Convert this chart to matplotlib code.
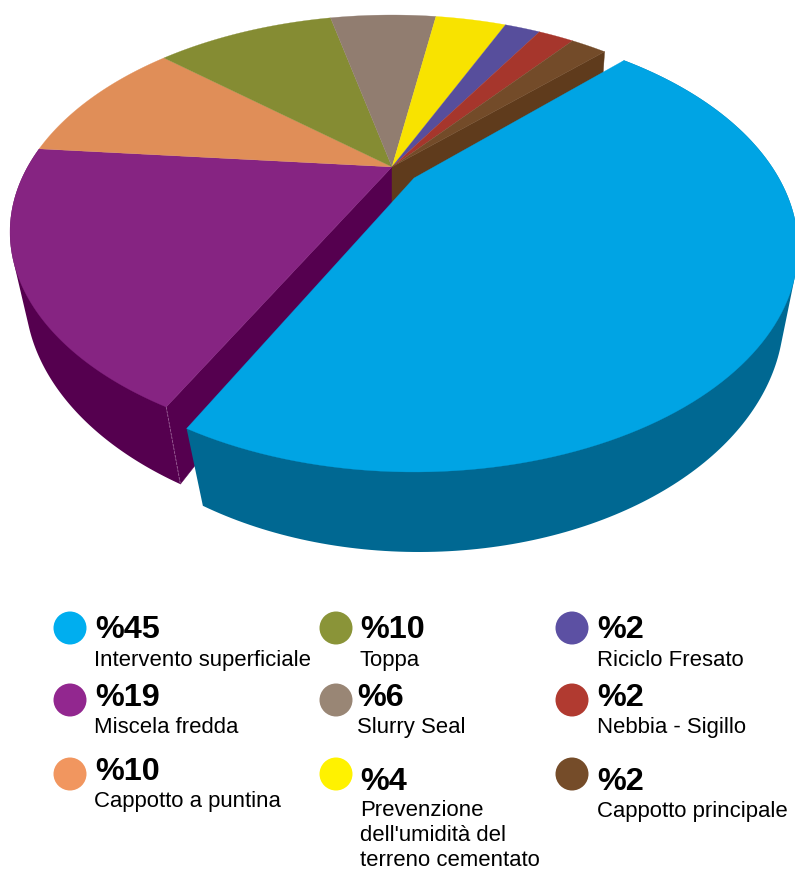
import numpy as np
import matplotlib
matplotlib.use("Agg")
import matplotlib.pyplot as plt
from matplotlib.patches import Polygon

plt.rcParams["font.family"] = ["Liberation Sans", "DejaVu Sans"]

# Share of each treatment, in the order the slices run clockwise
names = ["Intervento superficiale", "Miscela fredda", "Cappotto a puntina", "Toppa", "Slurry Seal",
         "Prevenzione\ndell'umidità del\nterreno cementato", "Riciclo Fresato", "Nebbia - Sigillo",
         "Cappotto principale"]
shares = [45, 19, 10, 10, 6, 4, 2, 2, 2]

top_colors = ["#00A4E4", "#862482", "#E08E58", "#858C33", "#917D70", "#F8E300", "#574E9C", "#A6362C", "#734B29"]
side_colors = ["#006892", "#55004F", "#B06A3C", "#5F6522", "#6B5A50", "#B8A800", "#3D3670", "#7A2620", "#5F3B1C"]
dot_colors = ["#00AEEF", "#92278F", "#F1965F", "#8A9438", "#998675", "#FFF200", "#5C50A3", "#B13A30", "#754C29"]

START_ANGLE = 45.0
BLUE_TURN = 0.3

# Pixel geometry of the two bodies: the pulled-out slice and the rest of the pie.
# Each rim is (cx, cy, rx, ry), the hub sits off centre because of the perspective.
BLUE_TOP = (414, 248, 384, 224)
BLUE_BOTTOM = (419, 314, 365, 238)
BLUE_TILT = 0.3125
REST_TOP = (392, 232, 382, 217)
REST_BOTTOM = (405, 293, 380, 237)
REST_TILT = 0.30

# Legend layout, same order as names
dot_x = [70, 70, 70, 336, 336, 336, 572, 572, 572]
dot_y = [628, 700, 774, 628, 700, 774, 628, 700, 774]
pct_x = [95, 95, 95, 360, 357, 360, 597, 597, 597]
pct_y = [638, 706, 780, 638, 706, 790, 638, 706, 790]
name_x = [94, 94, 94, 359, 357, 360, 597, 597, 597]
name_y = [666, 733, 807, 666, 733, 816, 666, 733, 817]


def rim_point(angle_deg, rim, tilt):
    """Perspective view of a point on the pie's unit circle."""
    cx, cy, rx, ry = rim
    t = np.radians(angle_deg)
    u0, v0 = np.cos(t), np.sin(t)
    den = 1 + tilt * v0
    u = u0 * np.sqrt(1 - tilt ** 2) / den
    v = (v0 + tilt) / den
    return np.column_stack([cx + rx * u, cy - ry * v])


def hub(rim, tilt):
    return np.array([rim[0], rim[1] - rim[3] * tilt])


def convex_hull(points):
    # monotone chain, enough for the wall outlines
    pts = sorted(map(tuple, points))

    def half(seq):
        out = []
        for p in seq:
            while len(out) > 1 and np.cross(np.subtract(out[-1], out[-2]), np.subtract(p, out[-1])) <= 0:
                out.pop()
            out.append(p)
        return out[:-1]

    return np.array(half(pts) + half(pts[::-1]))


def draw_wall(ax, a0, a1, top, bottom, tilt, color, z):
    # the hull gives the straight run where the wall leaves the upper rim;
    # its inner side ends up under the top face
    angles = np.linspace(a0, a1, 200)
    upper = rim_point(angles, top, tilt)
    lower = rim_point(angles, bottom, tilt)
    outline = convex_hull(np.vstack([upper, lower]))
    ax.add_patch(Polygon(outline, closed=True, fc=color, ec="none", zorder=z))


def draw_top(ax, a0, a1, rim, tilt, color, z):
    angles = np.linspace(a0, a1, 120)
    pts = np.vstack([hub(rim, tilt), rim_point(angles, rim, tilt)])
    ax.add_patch(Polygon(pts, closed=True, fc=color, ec=color, lw=0.2, zorder=z))


fig = plt.figure(figsize=(7.95, 8.71), dpi=100)
ax = fig.add_axes([0, 0, 1, 1])
ax.set_xlim(0, 795)
ax.set_ylim(871, 0)
ax.axis("off")

sweeps = np.array(shares) * 3.6
edges = START_ANGLE - np.concatenate([[0], np.cumsum(sweeps)])

# rest of the pie first: walls and cut faces, then the tops
rest_hub = hub(REST_TOP, REST_TILT)
rest_hub_low = rest_hub + np.array([0, 48])

purple_top = rim_point(edges[1], REST_TOP, REST_TILT)[0]
purple_low = rim_point(edges[1], REST_BOTTOM, REST_TILT)[0]
ax.add_patch(Polygon([rest_hub, purple_top, purple_low, rest_hub_low], closed=True,
                     fc=side_colors[1], ec=side_colors[1], lw=0.3, zorder=1))

brown_top = rim_point(edges[-1], REST_TOP, REST_TILT)[0]
brown_low = brown_top + np.array([-3, 45])
ax.add_patch(Polygon([rest_hub, brown_top, brown_low, rest_hub_low], closed=True,
                     fc=side_colors[-1], ec=side_colors[-1], lw=0.3, zorder=1))

draw_wall(ax, edges[1], edges[2], REST_TOP, REST_BOTTOM, REST_TILT, side_colors[1], 2)
ax.plot([purple_top[0], purple_low[0]], [purple_top[1], purple_low[1]], color="#9A5F96", lw=0.6,
        ls=(0, (3, 1.5)), zorder=3)

for i in range(1, len(shares)):
    draw_top(ax, edges[i], edges[i + 1], REST_TOP, REST_TILT, top_colors[i], 4)

# pulled-out slice on top of everything
draw_wall(ax, edges[0] + BLUE_TURN, edges[1] + BLUE_TURN, BLUE_TOP, BLUE_BOTTOM, BLUE_TILT, side_colors[0], 5)
draw_top(ax, edges[0] + BLUE_TURN, edges[1] + BLUE_TURN, BLUE_TOP, BLUE_TILT, top_colors[0], 6)

# legend
ax.scatter(dot_x, dot_y, s=(33 * 0.72) ** 2, c=dot_colors, linewidths=0, zorder=7)
for i, name in enumerate(names):
    ax.text(pct_x[i], pct_y[i], f"%{shares[i]}", fontsize=23.3, fontweight="bold", color="black",
            ha="left", va="baseline")
    lines = name.split("\n")
    for k, line in enumerate(lines):
        ax.text(name_x[i], name_y[i] + k * 25, line, fontsize=15.9, color="black",
                ha="left", va="baseline")

fig.savefig("out.png", dpi=100)
